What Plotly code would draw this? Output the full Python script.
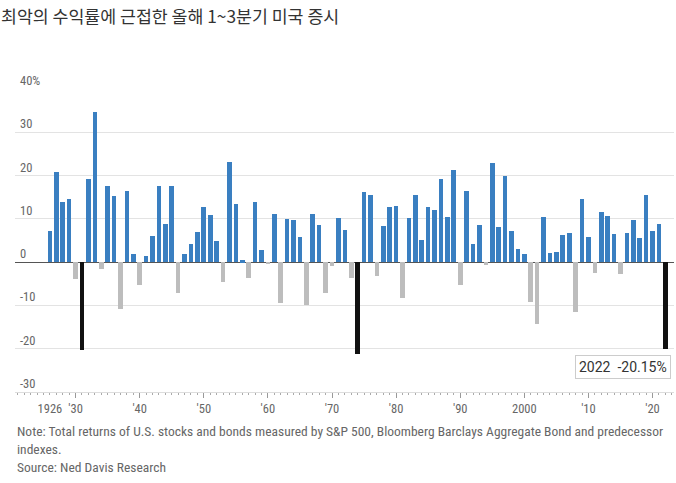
import plotly.graph_objects as go

# calendar years shown on the chart
years = list(range(1926, 2023))

# Q1-Q3 total return of U.S. stocks and bonds, percent
returns = [
    7.2, 20.9, 13.8, 14.7, -3.9, -20.2, 19.2, 34.7, -1.6, 17.5,     # 1926-1935
    15.2, -10.8, 16.4, 1.9, -5.2, 1.5, 6.0, 17.5, 8.8, 17.5,        # 1936-1945
    -7.2, 1.9, 4.3, 6.9, 12.8, 10.8, 4.9, -4.5, 23.2, 13.4,         # 1946-1955
    0.4, -3.7, 13.9, 2.8, -0.3, 11.1, -9.5, 9.9, 9.7, 5.8,          # 1956-1965
    -9.8, 11.2, 8.5, -7.2, -0.8, 10.2, 7.5, -3.7, -21.3, 16.2,      # 1966-1975
    15.4, -3.1, 8.4, 12.8, 13.0, -8.3, 10.2, 15.6, 5.2, 12.8,       # 1976-1985
    12.1, 19.3, 10.5, 21.2, -5.2, 16.4, 4.3, 8.5, -0.6, 22.9,       # 1986-1995
    8.2, 19.9, 7.3, 3.0, 1.9, -9.2, -14.3, 10.4, 2.2, 2.3,          # 1996-2005
    6.2, 6.8, -11.5, 14.5, 5.8, -2.4, 11.5, 10.6, 6.5, -2.8,        # 2006-2015
    6.8, 9.7, 5.6, 15.6, 7.2, 8.7, -20.15,                          # 2016-2022
]

# worst years, drawn in black
worst_years = [1931, 1974, 2022]

x_tickvals = [1930, 1940, 1950, 1960, 1970, 1980, 1990, 2000, 2010, 2020]
x_ticktext = ["'30", "'40", "'50", "'60", "'70", "'80", "'90", "2000", "'10", "'20"]
y_tickvals = [40, 30, 20, 10, 0, -10, -20, -30]
y_ticktext = ["40%", "30", "20", "10", "0", "-10", "-20", "-30"]

title = "최악의 수익률에 근접한 올해 1~3분기 미국 증시"
note = ("Note: Total returns of U.S. stocks and bonds measured by S&P 500, "
        "Bloomberg Barclays Aggregate Bond and predecessor<br>indexes.")
source = "Source: Ned Davis Research"

BLUE = "#3a7fc1"
GRAY = "#bdbdbd"
BLACK = "#111111"
TXT = "#666666"
NARROW = "Liberation Sans Narrow, Roboto Condensed, Roboto, sans-serif"

colors = []
for yr, v in zip(years, returns):
    if yr in worst_years:
        colors.append(BLACK)
    elif v < 0:
        colors.append(GRAY)
    else:
        colors.append(BLUE)

W, H = 676, 483
ML, MR, MT, MB = 15, 2, 89, 91
ph = H - MT - MB


def py(pix):
    # pixel row -> paper y
    return (H - MB - pix) / ph


fig = go.Figure()
fig.add_trace(go.Bar(
    x=years, y=returns, marker_color=colors, marker_line_width=0,
    width=0.72, hoverinfo="x+y",
))

annotations = []
for v, t in zip(y_tickvals, y_ticktext):
    annotations.append(dict(
        x=3 / (W - ML - MR), xref="paper", y=v, yref="y", text=t,
        showarrow=False, xanchor="left", yanchor="bottom", yshift=-1,
        font=dict(family=NARROW, size=12.5, color=TXT),
    ))

annotations.append(dict(
    x=2022, y=-20.15, xref="x", yref="y",
    text="2022  -20.15%", showarrow=False,
    xanchor="right", yanchor="top", xshift=6, yshift=-6,
    bgcolor="white", bordercolor="#cccccc", borderwidth=1, borderpad=3,
    font=dict(family="Roboto, sans-serif", size=14, color="#333333"),
))

annotations.append(dict(
    x=0, xref="paper", y=py(440), yref="paper", text=note, align="left",
    showarrow=False, xanchor="left", yanchor="middle",
    font=dict(family=NARROW, size=13.5, color=TXT),
))
annotations.append(dict(
    x=0, xref="paper", y=py(467), yref="paper", text=source, align="left",
    showarrow=False, xanchor="left", yanchor="middle",
    font=dict(family=NARROW, size=13.5, color=TXT),
))

fig.update_layout(
    width=W, height=H,
    margin=dict(l=ML, r=MR, t=MT, b=MB),
    paper_bgcolor="white", plot_bgcolor="white",
    showlegend=False, bargap=0,
    title=dict(
        text=title, x=1 / W, xref="container", xanchor="left",
        y=1 - 17 / H, yref="container", yanchor="middle",
        font=dict(family="Noto Sans CJK KR, sans-serif", size=17.3, color="#333333"),
    ),
    xaxis=dict(
        range=[1920.55, 2023.35],
        tickmode="array", tickvals=x_tickvals, ticktext=x_ticktext,
        ticks="outside", ticklen=5, tickcolor="#999999", tickwidth=1,
        minor=dict(tickmode="linear", tick0=1926, dtick=1, ticks="outside",
                   ticklen=2, tickcolor="#aaaaaa", showgrid=False),
        showgrid=False, zeroline=False,
        showline=True, linecolor="#dddddd", linewidth=1,
        tickfont=dict(family=NARROW, size=12.5, color=TXT),
    ),
    xaxis2=dict(
        overlaying="x", anchor="y", side="bottom",
        range=[1920.55, 2023.35],
        tickmode="array", tickvals=[1926], ticktext=["1926"],
        ticks="outside", ticklen=5, tickcolor="rgba(0,0,0,0)",
        showgrid=False, zeroline=False, showline=False,
        tickfont=dict(family=NARROW, size=12.5, color=TXT),
    ),
    yaxis=dict(
        range=[-30, 40],
        tickmode="array", tickvals=y_tickvals, showticklabels=False,
        showgrid=True, gridcolor="#e3e3e3", gridwidth=1,
        zeroline=True, zerolinecolor="#555555", zerolinewidth=1,
    ),
    annotations=annotations,
)

# invisible trace so the second x axis gets drawn
fig.add_trace(go.Scatter(x=[1926], y=[None], xaxis="x2", showlegend=False,
                         hoverinfo="skip"))

# the page body has a default margin; drop it so the figure sits at 0,0
fig.write_html("out.html", config={"displayModeBar": False},
               post_script="document.body.style.margin='0';")
